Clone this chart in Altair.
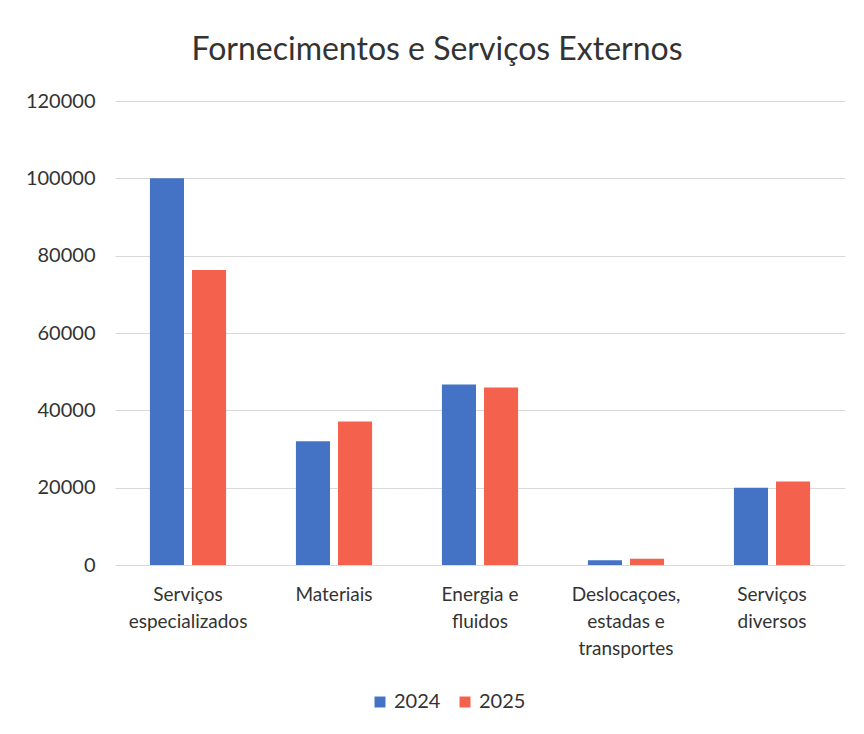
import json
import altair as alt
import pandas as pd

categories = ["Serviços especializados", "Materiais", "Energia e fluidos",
              "Deslocaçoes, estadas e transportes", "Serviços diversos"]
label_lines = [["Serviços", "especializados"], ["Materiais"], ["Energia e", "fluidos"],
               ["Deslocaçoes,", "estadas e", "transportes"], ["Serviços", "diversos"]]
years = ["2024", "2025"]
values_2024 = [100000, 32000, 46700, 1200, 20000]
values_2025 = [76300, 37100, 45900, 1600, 21600]
colors = ["#4472C4", "#F4614D"]
y_ticks = [0, 20000, 40000, 60000, 80000, 100000, 120000]

rows = []
for c, a, b in zip(categories, values_2024, values_2025):
    rows.append({"categoria": c, "ano": years[0], "valor": a})
    rows.append({"categoria": c, "ano": years[1], "valor": b})
df = pd.DataFrame(rows)

label_map = json.dumps(dict(zip(categories, label_lines)), ensure_ascii=False)
font = "Lato"
txt = "#333333"

chart = alt.Chart(df).mark_bar().encode(
    x=alt.X("categoria:N", sort=categories, title=None,
            scale=alt.Scale(paddingInner=0, paddingOuter=0),
            axis=alt.Axis(labelAngle=0, labelExpr=f"{label_map}[datum.label]",
                          labelFont=font, labelFontSize=19, labelColor=txt,
                          labelPadding=20, labelLineHeight=27, ticks=False, domain=False,
                          labelBaseline="top")),
    xOffset=alt.XOffset("ano:N", scale=alt.Scale(paddingInner=0.19, paddingOuter=0.83)),
    y=alt.Y("valor:Q", title=None, scale=alt.Scale(domain=[0, 120000], nice=False),
            axis=alt.Axis(values=y_ticks, format="d", labelFont=font, labelFontSize=20,
                          labelColor=txt, labelPadding=20, ticks=False, domain=False,
                          gridColor="#d9d9d9", gridWidth=1)),
    color=alt.Color("ano:N", scale=alt.Scale(domain=years, range=colors),
                    legend=alt.Legend(title=None, orient="none", direction="horizontal",
                                      legendX=255, legendY=591, symbolType="square",
                                      symbolSize=120, symbolStrokeWidth=0,
                                      labelFont=font, labelFontSize=20,
                                      labelColor=txt, columnPadding=14,
                                      labelOffset=4)),
).properties(
    width=730, height=464,
    title=alt.TitleParams("Fornecimentos e Serviços Externos", font=font, fontSize=32,
                          fontWeight="normal", color=txt, offset=24, dx=-43),
    autosize=alt.AutoSizeParams(type="none"),
    padding={"left": 107, "top": 93, "right": 11, "bottom": 161},
).configure_view(stroke=None)

chart.save("out.html", embed_options={"renderer": "svg", "actions": False})
